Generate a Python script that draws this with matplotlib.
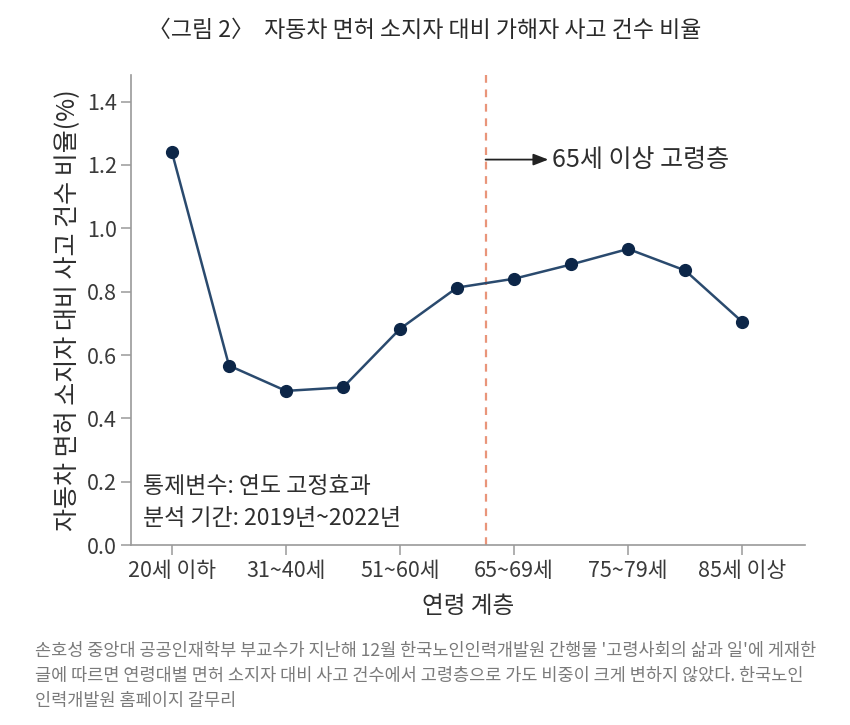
import matplotlib
matplotlib.use("Agg")
import matplotlib.pyplot as plt

plt.rcParams['font.family'] = ['Noto Sans CJK KR', 'DejaVu Sans']

categories = ["20세 이하", "21~30세", "31~40세", "41~50세", "51~60세", "61~64세",
              "65~69세", "70~74세", "75~79세", "80~84세", "85세 이상"]
ratios = [1.240, 0.567, 0.487, 0.498, 0.683, 0.813, 0.841, 0.886, 0.935, 0.867, 0.705]
shown_labels = ["20세 이하", "31~40세", "51~60세", "65~69세", "75~79세", "85세 이상"]
yticks = [0.0, 0.2, 0.4, 0.6, 0.8, 1.0, 1.2, 1.4]

title = "〈그림 2〉  자동차 면허 소지자 대비 가해자 사고 건수 비율"
ylabel = "자동차 면허 소지자 대비 사고 건수 비율(%)"
xlabel = "연령 계층"
note_lines = ["통제변수: 연도 고정효과", "분석 기간: 2019년~2022년"]
arrow_text = "65세 이상 고령층"
caption = ("손호성 중앙대 공공인재학부 부교수가 지난해 12월 한국노인인력개발원 간행물 '고령사회의 삶과 일'에 게재한\n"
           "글에 따르면 연령대별 면허 소지자 대비 사고 건수에서 고령층으로 가도 비중이 크게 변하지 않았다. 한국노인\n"
           "인력개발원 홈페이지 갈무리")

fig = plt.figure(figsize=(8.5, 7.25), dpi=100)
ax = fig.add_axes([0.154, 0.248, 0.793, 0.649])

x = list(range(len(categories)))
ax.plot(x, ratios, color="#2a4a6e", lw=1.8, marker="o", markersize=8.5,
        markerfacecolor="#0c2648", markeredgecolor="#0c2648", zorder=3)

ax.set_xlim(-0.72, 11.1)
ax.set_ylim(0, 1.485)

tick_pos = [categories.index(l) for l in shown_labels]
ax.set_xticks(tick_pos)
ax.set_xticklabels(shown_labels)
ax.set_yticks(yticks)
ax.set_yticklabels([f"{v:.1f}" for v in yticks])

for s in ["top", "right"]:
    ax.spines[s].set_visible(False)
for s in ["left", "bottom"]:
    ax.spines[s].set_color("#9a9a9a")
    ax.spines[s].set_linewidth(1.2)
ax.tick_params(axis="both", colors="#9a9a9a", labelcolor="#3a3a3a",
               labelsize=15.5, length=7, width=1.1, direction="out")
ax.tick_params(axis="x", pad=4)
ax.tick_params(axis="y", pad=3)

# dashed divider
div_x = 5.5
ax.axvline(div_x, ymin=0, ymax=1.01, color="#e9957a", lw=1.6, ls=(0, (3.5, 3)), clip_on=False, zorder=1)

# arrow and annotation
ax.annotate("", xy=(div_x + 1.1, 1.217), xytext=(div_x, 1.217),
            arrowprops=dict(arrowstyle="-|>,head_length=0.9,head_width=0.35",
                            color="#222222", lw=1.3, shrinkA=0, shrinkB=0))
ax.text(div_x + 1.17, 1.217, arrow_text, fontsize=18, color="#2e2e2e",
        va="center", ha="left")

ax.text(-0.5, 0.185, note_lines[0], fontsize=16.5, color="#2e2e2e", va="center", ha="left")
ax.text(-0.5, 0.085, note_lines[1], fontsize=16.5, color="#2e2e2e", va="center", ha="left")

ax.set_ylabel(ylabel, fontsize=18, color="#2e2e2e", labelpad=4)
ax.set_xlabel(xlabel, fontsize=17, color="#2e2e2e", labelpad=9)

fig.text(0.5, 0.958, title, fontsize=16.5, color="#2a2a2a", ha="center", va="center",
         fontweight="medium")

fig.text(0.041, 0.068, caption, fontsize=12.6, color="#7a7a7a", ha="left", va="center",
         linespacing=1.5)

fig.savefig("out.png", dpi=100)
